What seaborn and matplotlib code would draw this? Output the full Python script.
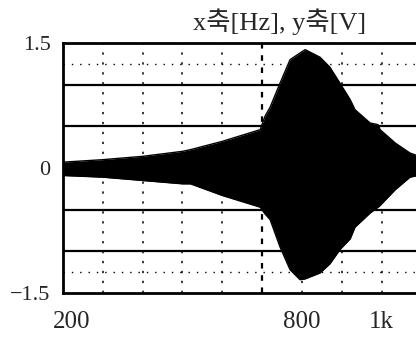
import numpy as np
import pandas as pd
import matplotlib
matplotlib.use('Agg')
import matplotlib.pyplot as plt
import matplotlib.transforms as mtransforms
import seaborn as sns

# envelope of the swept response
freq = [200, 300, 400, 500, 520, 600, 695, 707, 720, 745, 770, 795, 808,
        845, 870, 895, 921, 933, 971, 991, 996, 1034, 1071, 1100]
upper = [0.07, 0.10, 0.14, 0.20, 0.22, 0.32, 0.46, 0.62, 0.73, 1.02, 1.30, 1.38, 1.42,
         1.33, 1.21, 1.02, 0.82, 0.70, 0.54, 0.52, 0.46, 0.30, 0.18, 0.13]
lower = [-0.09, -0.11, -0.15, -0.19, -0.19, -0.33, -0.47, -0.55, -0.62, -0.95, -1.22, -1.34, -1.33,
         -1.26, -1.15, -0.98, -0.85, -0.71, -0.54, -0.47, -0.45, -0.26, -0.11, -0.08]

xticks = [200, 800, 1000]
xticklabels = ['200', '800', '1k']
yticks = [1.5, 0, -1.5]
yticklabels = ['1.5', '0', '\u22121.5']
solid_y = [1.0, 0.5, -0.5, -1.0]
dotted_y = [1.25, -1.25]
dotted_x = [300, 400, 500, 600, 800, 900, 1000]

df = pd.DataFrame({'freq': freq, 'upper': upper, 'lower': lower})

sns.set_theme(style='white')
plt.rcParams['font.family'] = ['Liberation Serif', 'Noto Sans CJK KR']

fig = plt.figure(figsize=(4.16, 3.44), dpi=100)
ax = fig.add_axes([63 / 416, 51 / 344, 358.5 / 416, 250 / 344])

ax.fill_between(df['freq'], df['lower'], df['upper'], color='black', lw=0, zorder=3)
sns.lineplot(data=df, x='freq', y='upper', color='black', lw=1, ax=ax, zorder=3)
sns.lineplot(data=df, x='freq', y='lower', color='black', lw=1, ax=ax, zorder=3)

for y in solid_y:
    ax.axhline(y, color='black', lw=1.6, zorder=2)
for y in dotted_y:
    ax.axhline(y, color='black', lw=1.0, ls=(0, (1, 5)), zorder=2)
for x in dotted_x:
    ax.axvline(x, color='black', lw=1.1, ls=(0, (1.5, 5)), zorder=2)
ax.axvline(700, color='black', lw=1.6, ls=(0, (2.5, 3)), zorder=2)

ax.set_xlim(200, 1100)
ax.set_ylim(-1.5, 1.5)
ax.set_xticks(xticks)
ax.set_xticklabels(xticklabels, fontsize=18)
ax.set_yticks(yticks)
ax.set_yticklabels(yticklabels, fontsize=16)
ax.tick_params(axis='both', length=0)
ax.tick_params(axis='x', pad=13)
ax.tick_params(axis='y', pad=9)
ax.set_xlabel('')
ax.set_ylabel('')

# first label sits a bit to the right of the axis
lab = ax.get_xticklabels()[0]
lab.set_transform(lab.get_transform() + mtransforms.ScaledTranslation(9 / 100, 0, fig.dpi_scale_trans))

for side in ['left', 'top', 'bottom']:
    ax.spines[side].set_color('black')
    ax.spines[side].set_linewidth(2)
ax.spines['right'].set_visible(False)

fig.text(280 / 416, 1 - 22 / 344, 'x축[Hz], y축[V]', ha='center', va='center', fontsize=19,
         family=['Liberation Serif', 'Noto Sans CJK KR'])

fig.savefig('out.png', dpi=100)
